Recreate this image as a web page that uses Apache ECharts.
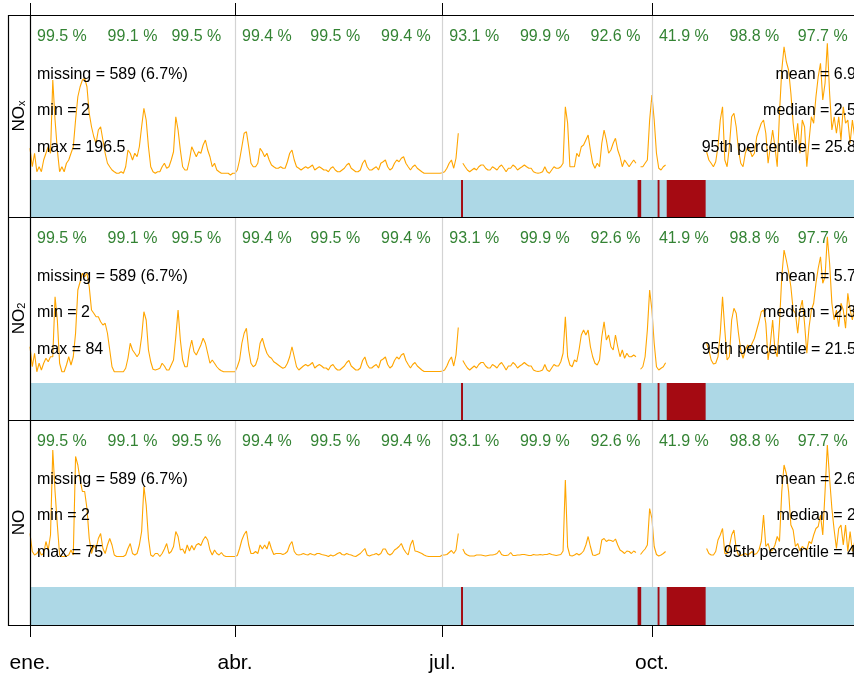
<!DOCTYPE html>
<html><head><meta charset="utf-8">
<script src="https://cdn.jsdelivr.net/npm/echarts@6/dist/echarts.min.js"></script>
<style>html,body{margin:0;padding:0;overflow:hidden;background:#fff}#c{width:870px;height:677px}</style>
</head><body><div id="c"></div><script>
const year = 2019;
const pollutantNames = ['NOx', 'NO2', 'NO'];
const noxDaily = [
12.7,5.3,10.7,3.3,5.3,3.3,8.0,10.7,13.3,10.7,
40.0,24.0,12.0,3.3,5.3,3.3,6.7,8.0,10.7,13.3,
24.0,33.3,37.3,40.0,40.7,37.3,26.7,21.3,17.3,14.7,
20.0,21.3,16.0,10.7,6.7,5.3,4.0,3.3,2.7,2.7,
3.3,2.7,5.3,12.0,10.7,8.0,10.7,9.3,13.3,21.3,
28.7,24.0,13.3,5.3,3.3,2.7,3.3,3.3,5.3,6.7,
4.7,5.3,8.0,11.3,25.3,20.0,12.0,5.3,4.0,4.0,
8.0,13.3,11.3,9.3,11.3,10.7,14.0,16.0,12.0,9.3,
5.3,6.7,4.0,3.3,2.7,2.7,2.7,2.7,2.0,2.7,
2.7,4.0,8.0,13.3,18.7,19.3,13.3,6.7,5.3,5.3,
6.7,12.7,11.3,9.3,10.7,8.0,6.0,5.3,4.7,4.7,
5.3,4.7,4.7,7.3,10.7,12.0,8.0,5.3,4.7,4.0,
4.7,5.3,4.7,5.3,6.0,4.0,4.7,5.3,4.7,4.0,
4.0,3.3,4.7,5.3,4.0,3.3,3.3,4.0,4.7,6.0,
6.7,4.7,4.0,3.3,3.3,4.0,6.7,8.0,5.3,4.0,
4.0,4.7,5.3,4.0,6.7,7.3,8.0,5.3,4.0,4.7,
6.7,8.0,7.3,8.7,9.3,6.7,5.3,4.0,5.3,6.0,
4.7,4.0,3.3,2.7,2.7,2.7,2.7,2.7,2.7,2.7,
2.7,2.9,3.3,4.7,6.7,8.0,4.7,8.7,18.7,null,
6.7,5.3,4.0,3.3,4.0,4.7,4.0,5.3,6.0,6.0,
4.7,4.0,4.0,5.3,4.7,4.0,5.3,6.0,4.7,3.3,
4.7,4.7,6.0,5.3,4.0,4.7,5.3,6.0,5.3,4.7,
4.7,3.3,2.9,2.7,2.9,3.3,5.3,3.3,2.7,4.0,
5.3,4.7,4.7,5.3,6.7,29.3,22.7,5.3,5.3,5.3,
10.7,9.3,13.3,14.0,16.0,18.0,12.0,6.7,4.7,6.7,
5.3,14.7,20.0,16.0,10.7,12.0,14.7,16.7,12.0,9.3,
5.3,8.0,6.7,5.3,6.7,8.0,6.7,null,5.3,5.3,
6.7,8.0,24.0,34.0,24.0,10.7,4.7,4.0,5.3,6.0,
null,null,null,null,null,null,null,null,null,null,
null,null,null,null,null,null,null,11.3,8.0,6.7,
5.3,7.3,13.3,24.0,29.3,8.0,5.3,13.3,25.3,26.7,
21.3,12.0,6.7,5.3,10.7,13.3,12.0,9.3,10.7,17.3,
20.0,22.7,24.0,18.7,6.7,13.3,20.0,13.3,5.3,26.7,
44.0,53.3,47.3,44.0,34.7,22.7,14.7,22.7,10.7,24.0,
21.3,5.3,16.0,25.3,22.7,33.3,41.3,46.7,32.0,38.7,
54.7,34.7,20.0,25.3,18.7,25.3,16.0,29.3,22.7,24.0,
14.7,24.0,17.3,21.3,13.3
];
const no2Daily = [
14.5,6.5,11.9,4.5,7.9,5.2,7.9,9.9,8.5,10.5,
10.5,34.5,25.2,7.9,4.5,4.5,7.2,10.5,7.2,10.5,
19.9,37.2,40.5,43.9,42.5,43.9,38.5,29.2,27.9,26.5,
26.5,24.5,23.2,23.9,19.9,13.2,6.5,4.5,4.5,4.5,
4.5,4.5,5.9,9.9,15.9,13.2,11.9,10.5,11.9,18.5,
28.5,25.2,13.2,8.5,5.5,5.2,5.5,5.9,7.9,6.8,
5.2,5.2,7.2,9.2,18.5,29.2,17.2,9.2,6.5,6.5,
13.2,17.2,12.5,11.2,13.2,15.2,17.9,15.9,11.9,7.9,
9.2,7.9,6.5,5.5,4.9,4.5,4.5,4.5,4.5,4.5,
4.5,6.5,9.2,15.9,19.9,21.9,13.2,7.9,6.5,7.2,
9.9,15.9,17.9,14.5,11.9,10.5,9.9,8.5,7.9,7.2,
6.5,5.9,6.3,7.9,10.5,14.5,10.5,6.5,5.2,6.0,
6.8,7.4,6.8,7.4,8.2,6.0,6.8,7.4,6.8,6.0,
6.0,5.2,6.8,7.4,6.0,5.2,5.2,6.0,6.8,8.2,
9.0,6.8,6.0,5.2,5.2,6.0,9.0,10.4,7.4,6.0,
6.0,6.8,7.4,6.0,9.0,9.6,10.4,7.4,6.0,6.8,
9.0,10.4,9.6,11.2,11.8,9.0,7.4,6.0,7.4,8.2,
6.8,6.0,5.2,4.6,4.6,4.6,4.6,4.6,4.6,4.6,
4.6,4.8,5.2,6.8,9.0,10.4,6.8,11.2,22.2,null,
9.0,7.4,6.0,5.2,6.0,6.8,6.0,7.4,8.2,8.2,
6.8,6.0,6.0,7.4,6.8,6.0,7.4,8.2,6.8,5.2,
6.8,6.8,8.2,7.4,6.0,6.8,7.4,8.2,7.4,6.8,
6.8,5.2,4.8,4.6,4.8,5.2,7.4,5.2,4.6,6.0,
7.4,6.8,6.8,8.5,11.9,26.5,10.5,7.2,6.5,9.2,
8.5,13.2,19.2,21.2,19.2,21.2,14.5,10.5,7.9,7.2,
9.2,18.5,24.5,17.2,19.2,14.5,13.2,19.2,14.5,10.5,
13.2,9.9,11.9,10.5,10.5,11.2,10.5,null,5.5,6.5,
10.5,21.2,37.2,29.2,15.9,6.5,5.2,5.9,6.5,8.1,
null,null,null,null,null,null,null,null,null,null,
null,null,null,null,null,null,null,15.9,13.2,9.2,
7.6,7.9,10.5,19.9,34.5,21.2,9.2,10.5,25.2,29.9,
27.9,19.9,13.2,9.9,13.2,15.2,13.9,15.9,17.9,21.2,
24.5,28.5,29.2,23.9,9.2,15.9,25.2,13.2,10.5,23.9,
42.5,53.2,49.2,44.5,38.5,29.2,27.9,19.9,29.2,33.2,
23.9,11.9,22.5,29.2,31.9,39.9,45.9,50.5,39.9,42.5,
58.5,47.9,31.9,25.2,29.2,22.5,31.9,29.2,21.9,35.9,
29.2,25.2,31.9,21.2,29.2
];
const noDaily = [
6.7,3.1,2.4,2.7,3.4,2.4,2.7,5.1,3.4,6.4,
23.4,15.1,8.4,2.4,2.1,2.1,2.2,2.4,3.4,2.4,
22.1,20.4,17.4,15.1,15.1,11.7,5.7,2.7,4.4,3.7,
5.7,6.7,3.7,2.7,4.4,5.7,4.4,2.4,2.1,2.1,
2.1,2.1,2.4,3.7,4.7,2.7,2.4,2.7,4.4,7.1,
16.1,12.4,5.7,2.4,2.1,2.7,2.7,2.1,2.7,3.6,
4.7,2.7,3.1,4.1,7.1,6.1,3.4,3.6,2.7,4.4,
3.2,4.3,3.4,4.4,4.7,4.3,5.4,6.1,5.4,3.4,
2.4,3.4,2.7,2.4,2.9,2.3,2.1,2.1,2.1,2.1,
2.1,2.3,3.7,5.4,6.5,7.2,4.4,2.7,2.7,3.1,
2.7,4.4,3.6,4.4,3.6,5.1,3.6,2.5,2.7,2.7,
2.7,2.5,2.7,3.1,4.4,5.1,3.1,2.5,2.4,2.5,
2.7,2.5,2.4,2.7,2.5,2.4,2.7,2.7,2.5,2.4,
2.3,2.1,2.4,2.2,2.4,2.7,2.9,2.5,2.4,2.7,
2.5,2.4,2.2,2.1,2.4,2.7,3.2,3.7,2.4,2.2,
2.4,2.5,2.7,2.4,2.7,3.6,3.6,2.7,2.4,2.7,
3.4,3.7,4.1,4.7,3.6,2.9,2.4,4.4,5.4,3.2,
3.1,2.9,2.7,2.4,2.2,2.1,2.1,2.1,2.1,2.1,
2.1,2.4,2.4,2.5,2.9,3.3,2.7,3.4,6.7,null,
3.6,2.7,2.4,2.2,2.2,2.2,2.4,2.4,2.4,2.3,
2.2,2.3,2.4,2.4,2.5,2.7,3.3,2.5,2.3,2.3,
2.4,2.9,2.3,2.3,2.4,2.4,2.5,2.5,2.4,2.3,
2.3,2.5,2.4,2.4,2.5,2.4,2.5,2.5,2.7,2.5,
2.4,2.3,2.4,2.5,3.2,17.4,4.0,2.3,2.2,2.4,
2.7,2.4,2.7,3.2,4.4,6.1,4.1,2.4,2.3,2.5,
2.7,5.4,5.7,5.1,5.4,5.3,5.1,5.6,4.4,3.4,
3.1,2.7,3.2,3.1,2.7,3.2,2.9,null,2.5,3.1,
3.6,4.4,11.7,9.7,4.1,2.5,2.2,2.4,2.7,3.1,
null,null,null,null,null,null,null,null,null,null,
null,null,null,null,null,null,null,3.7,2.7,2.4,
2.4,3.1,5.4,6.4,7.7,2.7,2.7,4.1,6.4,7.4,
3.7,2.4,2.3,2.5,2.7,2.4,2.7,3.1,2.5,2.7,
3.4,5.1,10.4,4.1,4.7,3.1,3.4,4.4,6.1,5.1,
15.1,20.4,18.7,15.1,8.4,7.4,4.1,4.7,3.2,4.1,
3.7,3.4,5.1,4.7,6.4,7.7,8.1,10.4,6.4,15.1,
24.4,17.7,11.7,7.4,3.7,7.7,8.4,4.4,8.4,3.1,
7.1,3.1,5.1,5.7,3.7
];
const monthPct = ['99.5','99.1','99.5','99.4','99.5','99.4','93.1','99.9','92.6','41.9','98.8','97.7'];
const missingPeriods = [
  ['2019-07-09T05:00:00Z','2019-07-10T02:00:00Z'],
  ['2019-09-24T17:00:00Z','2019-09-26T07:00:00Z'],
  ['2019-10-03T12:00:00Z','2019-10-04T08:00:00Z'],
  ['2019-10-07T12:00:00Z','2019-10-24T14:00:00Z']
];
const statMissing = ['589 (6.7%)','589 (6.7%)','589 (6.7%)'];
const statMin = ['2','2','2'];
const statMax = ['196.5','84','75'];
const statMean = ['6.9','5.7','2.6'];
const statMedian = ['2.5','2.3','2'];
const statP95 = ['25.8','21.5','4'];
const tickDates = ['2019-01-01T00:00:00Z','2019-04-01T00:00:00Z','2019-07-01T00:00:00Z','2019-10-01T00:00:00Z'];
const tickLabels = ['ene.','abr.','jul.','oct.'];
const gridDates = ['2019-04-01T00:00:00Z','2019-07-01T00:00:00Z','2019-10-01T00:00:00Z'];

const DAY = 86400000;
const t0 = Date.UTC(year, 0, 1), t1 = Date.UTC(year + 1, 0, 1);
const tickTs = tickDates.map(d => Date.parse(d));
const FONT = '"Liberation Sans", Arial, sans-serif';
const dailyData = [noxDaily, no2Daily, noDaily];
const layout = [
  {top: 15, lineH: 165, barH: 37, yMin: 0, yMax: 66},
  {top: 217, lineH: 166, barH: 37, yMin: 0, yMax: 66.4},
  {top: 420, lineH: 167, barH: 38, yMin: -4, yMax: 29.4}
];
const RIGHT = 8.5, LEFT = 30;
const grids = [], xAxes = [], yAxes = [], series = [], graphics = [];
const tickFmt = v => { const k = tickTs.indexOf(v); return k >= 0 ? tickLabels[k] : ''; };

layout.forEach((p, i) => {
  grids.push({left: LEFT, right: RIGHT, top: p.top, height: p.lineH, show: false});
  grids.push({left: LEFT, right: RIGHT, top: p.top + p.lineH, height: p.barH, show: true,
    backgroundColor: '#ADD8E6', borderWidth: 0});
  const gi = 2 * i;
  xAxes.push({type: 'value', gridIndex: gi, min: t0, max: t1, position: 'top',
    show: i === 0,
    axisLine: {show: false, onZero: false},
    axisTick: {show: true, length: 12, inside: false, customValues: tickTs, lineStyle: {color: '#000', width: 1}},
    axisLabel: {show: true, customValues: tickTs, formatter: () => '', margin: 2},
    splitLine: {show: false}});
  xAxes.push({type: 'value', gridIndex: gi + 1, min: t0, max: t1, position: 'bottom',
    show: i === 2,
    axisLine: {show: false, onZero: false},
    axisTick: {show: true, length: 12, inside: false, customValues: tickTs, lineStyle: {color: '#000', width: 1}},
    axisLabel: {show: true, customValues: tickTs, margin: 28, fontSize: 21, color: '#000', fontFamily: FONT,
      formatter: tickFmt},
    splitLine: {show: false}});
  yAxes.push({type: 'value', gridIndex: gi, min: p.yMin, max: p.yMax, show: false});
  yAxes.push({type: 'value', gridIndex: gi + 1, min: 0, max: 1, show: false});

  series.push({type: 'line', xAxisIndex: gi, yAxisIndex: gi,
    data: dailyData[i].map((v, k) => [t0 + k * DAY, v]),
    showSymbol: false, connectNulls: false, animation: false, z: 3,
    lineStyle: {color: '#FFA500', width: 1.1},
    markLine: {silent: true, symbol: 'none', animation: false, label: {show: false},
      lineStyle: {color: '#D3D3D3', type: 'solid', width: 1.2},
      data: gridDates.map(d => ({xAxis: Date.parse(d)}))}
  });
  series.push({type: 'scatter', xAxisIndex: gi, yAxisIndex: gi, symbolSize: 0, animation: false, z: 5,
    data: monthPct.map((pc, m) => [Date.UTC(year, m, 15), p.yMax, pc]),
    label: {show: true, position: 'inside', offset: [0, 22], color: '#006400', fontSize: 16, fontFamily: FONT,
      formatter: d => d.data[2] + ' %'}
  });
  series.push({type: 'custom', xAxisIndex: gi + 1, yAxisIndex: gi + 1, animation: false,
    data: missingPeriods.map(m => [Date.parse(m[0]), Date.parse(m[1])]),
    encode: {x: [0, 1]},
    renderItem: (params, api) => {
      const s = api.coord([api.value(0), 1]);
      const e = api.coord([api.value(1), 0]);
      return {type: 'rect', shape: {x: s[0], y: s[1], width: e[0] - s[0], height: e[1] - s[1]},
        style: {fill: '#A50A12'}};
    }
  });

  const st = {font: '16px ' + FONT, fill: '#000'};
  const leftTxt = ['missing = ' + statMissing[i], 'min = ' + statMin[i], 'max = ' + statMax[i]];
  const rightTxt = ['mean = ' + statMean[i], 'median = ' + statMedian[i], '95th percentile = ' + statP95[i]];
  const offs = [59.5, 96, 132.5];
  offs.forEach((o, k) => {
    graphics.push({type: 'text', x: 37, y: p.top + o, z: 100,
      style: Object.assign({text: leftTxt[k], align: 'left', verticalAlign: 'middle'}, st)});
    graphics.push({type: 'text', x: 856, y: p.top + o, z: 100,
      style: Object.assign({text: rightTxt[k], align: 'right', verticalAlign: 'middle'}, st)});
  });
});

const stripText = ['{a|NO}{b|x}', '{a|NO}{b|2}', '{a|NO}'];
const panelBounds = [[15, 217], [217, 420], [420, 625]];
stripText.forEach((t, i) => {
  graphics.push({type: 'text', x: 19, y: (panelBounds[i][0] + panelBounds[i][1]) / 2, rotation: Math.PI / 2, z: 100,
    style: {text: t, align: 'center', verticalAlign: 'middle', fill: '#000',
      rich: {a: {fontSize: 17, lineHeight: 17, fontFamily: FONT, fill: '#000'},
             b: {fontSize: 11, lineHeight: 11, fontFamily: FONT, fill: '#000', verticalAlign: 'bottom'}}}});
});
const frameStyle = {stroke: '#000', lineWidth: 1.2};
[15, 217, 420, 625].forEach(y => graphics.push({type: 'line', z: 50, shape: {x1: 8, y1: y + 0.5, x2: 870, y2: y + 0.5}, style: frameStyle}));
[8, 30].forEach(x => graphics.push({type: 'line', z: 50, shape: {x1: x + 0.5, y1: 15, x2: x + 0.5, y2: 626}, style: frameStyle}));

const chart = echarts.init(document.getElementById('c'), null, {renderer: 'canvas'});
chart.setOption({
  animation: false,
  backgroundColor: '#fff',
  grid: grids, xAxis: xAxes, yAxis: yAxes, series: series, graphic: graphics
});
</script></body></html>
